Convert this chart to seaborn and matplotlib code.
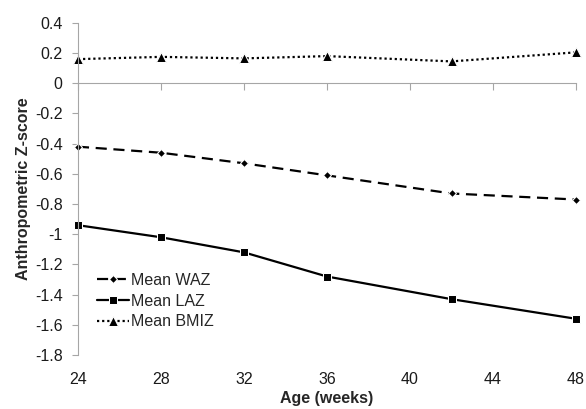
import matplotlib
matplotlib.use('Agg')
import matplotlib.pyplot as plt
import seaborn as sns

# values
age_weeks = [24, 28, 32, 36, 42, 48]
mean_waz = [-0.42, -0.46, -0.53, -0.61, -0.73, -0.77]
mean_laz = [-0.94, -1.02, -1.12, -1.28, -1.43, -1.56]
mean_bmiz = [0.16, 0.175, 0.165, 0.18, 0.145, 0.205]

x_ticks = [24, 28, 32, 36, 40, 44, 48]
y_ticks = [0.4, 0.2, 0, -0.2, -0.4, -0.6, -0.8, -1, -1.2, -1.4, -1.6, -1.8]

sns.set_style('white')
plt.rcParams['font.family'] = ['Liberation Sans', 'DejaVu Sans']

fig = plt.figure(figsize=(5.86, 4.09), dpi=100)
ax = fig.add_axes([0.133, 0.132, 0.85, 0.812])

sns.lineplot(x=age_weeks, y=mean_waz, ax=ax, color='black', linestyle=(0, (5, 3)),
             linewidth=1.6, marker='D', markersize=4.5, label='Mean WAZ', clip_on=False)
sns.lineplot(x=age_weeks, y=mean_laz, ax=ax, color='black', linestyle='-',
             linewidth=1.6, marker='s', markersize=6, label='Mean LAZ', clip_on=False)
sns.lineplot(x=age_weeks, y=mean_bmiz, ax=ax, color='black', linestyle=(0, (1, 1.3)),
             linewidth=1.6, marker='^', markersize=6.5, label='Mean BMIZ', clip_on=False)

ax.set_xlim(24, 48)
ax.set_ylim(-1.8, 0.4)
ax.set_yticks(y_ticks)
ax.set_yticklabels(['%g' % v for v in y_ticks])

fs = 11.5
gray = '#a6a6a6'
for s in ['top', 'right']:
    ax.spines[s].set_visible(False)
ax.spines['left'].set_color(gray)
ax.spines['bottom'].set_color(gray)
ax.spines['bottom'].set_position(('data', 0))

ax.set_xticks(x_ticks)
ax.tick_params(axis='x', which='both', direction='out', length=5, color=gray,
               labelbottom=False, bottom=True)
ax.tick_params(axis='y', direction='out', length=4, color=gray, labelsize=fs,
               labelcolor='#1a1a1a', left=True, pad=7)

# x labels sit at the bottom while the axis line crosses at 0
sec = ax.secondary_xaxis('bottom')
sec.set_xticks(x_ticks)
sec.set_xticklabels([str(v) for v in x_ticks])
sec.spines['bottom'].set_visible(False)
sec.tick_params(length=0, labelsize=fs, labelcolor='#1a1a1a', pad=12)
sec.set_xlabel('Age (weeks)', fontsize=fs, fontweight='bold', labelpad=3)

ax.set_xlabel('')
ax.set_ylabel('Anthropometric Z-score', fontsize=fs, fontweight='bold', labelpad=3)

leg = ax.legend(loc='upper left', bbox_to_anchor=(0.01, 0.29), frameon=False,
                fontsize=fs, handlelength=2.0, handletextpad=0.1, labelspacing=0.35)

fig.savefig('out.png', dpi=100)
